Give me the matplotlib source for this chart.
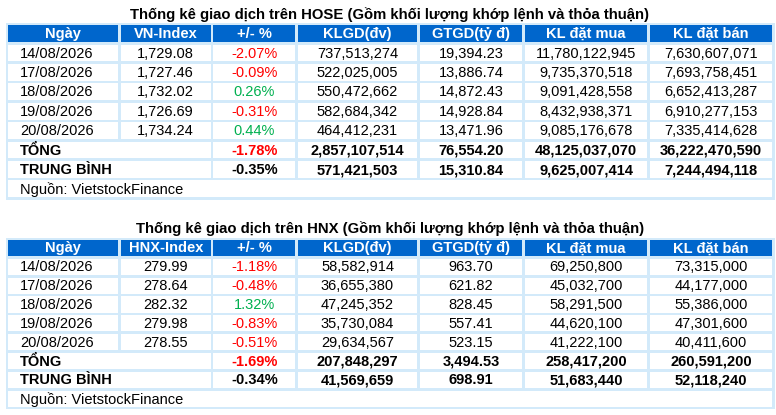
import matplotlib.pyplot as plt
from matplotlib.patches import Rectangle

plt.rcParams['font.family'] = ['Liberation Sans', 'DejaVu Sans']

# ---- data ----
headers_hose = ['Ngày', 'VN-Index', '+/- %', 'KLGD(đv)', 'GTGD(tỷ đ)', 'KL đặt mua', 'KL đặt bán']
headers_hnx = ['Ngày', 'HNX-Index', '+/- %', 'KLGD(đv)', 'GTGD(tỷ đ)', 'KL đặt mua', 'KL đặt bán']
dates = ['14/08/2026', '17/08/2026', '18/08/2026', '19/08/2026', '20/08/2026']

hose_index = [1729.08, 1727.46, 1732.02, 1726.69, 1734.24]
hose_change = [-2.07, -0.09, 0.26, -0.31, 0.44]
hose_klgd = [737513274, 522025005, 550472662, 582684342, 464412231]
hose_gtgd = [19394.23, 13886.74, 14872.43, 14928.84, 13471.96]
hose_mua = [11780122945, 9735370518, 9091428558, 8432938371, 9085176678]
hose_ban = [7630607071, 7693758451, 6652413287, 6910277153, 7335414628]
hose_total = [-1.78, 2857107514, 76554.20, 48125037070, 36222470590]
hose_avg = [-0.35, 571421503, 15310.84, 9625007414, 7244494118]

hnx_index = [279.99, 278.64, 282.32, 279.98, 278.55]
hnx_change = [-1.18, -0.48, 1.32, -0.83, -0.51]
hnx_klgd = [58582914, 36655380, 47245352, 35730084, 29634567]
hnx_gtgd = [963.70, 621.82, 828.45, 557.41, 523.15]
hnx_mua = [69250800, 45032700, 58291500, 44620100, 41222100]
hnx_ban = [73315000, 44177000, 55386000, 47301600, 40411600]
hnx_total = [-1.69, 207848297, 3494.53, 258417200, 260591200]
hnx_avg = [-0.34, 41569659, 698.91, 51683440, 52118240]

title_hose = 'Thống kê giao dịch trên HOSE (Gồm khối lượng khớp lệnh và thỏa thuận)'
title_hnx = 'Thống kê giao dịch trên HNX (Gồm khối lượng khớp lệnh và thỏa thuận)'
source = 'Nguồn: VietstockFinance'

# ---- style ----
HEAD = '#0066CC'
LINE = '#D3EAFA'
RED = '#FF0000'
GREEN = '#00B050'
FS = 10.5
col_edges = [6.5, 119.5, 212, 296.5, 418.5, 523.5, 648.5, 773.5]
gap = 1.3

fig = plt.figure(figsize=(7.76, 4.15), dpi=100, facecolor='white')
ax = fig.add_axes([0, 0, 1, 1])
ax.set_xlim(0, 776)
ax.set_ylim(415, 0)
ax.axis('off')


def cell(x0, x1, y0, y1, color):
    ax.add_patch(Rectangle((x0 + gap, y0 + gap), x1 - x0 - 2 * gap, y1 - y0 - 2 * gap,
                           facecolor=color, edgecolor='none'))


def pct_color(v):
    return RED if v < 0 else GREEN


def draw_table(top, step, title, headers, index, change, klgd, gtgd, mua, ban, total, avg):
    ys = [top + i * step for i in range(10)]
    ax.add_patch(Rectangle((col_edges[0] - 1, ys[0] - 1), col_edges[-1] - col_edges[0] + 2,
                           ys[-1] - ys[0] + 2, facecolor=LINE, edgecolor='none'))
    ax.text(390, top - 9.5, title, ha='center', va='center', fontsize=10.7, fontweight='bold')
    # header
    for j, h in enumerate(headers):
        cell(col_edges[j], col_edges[j + 1], ys[0], ys[1], HEAD)
        ax.text((col_edges[j] + col_edges[j + 1]) / 2, (ys[0] + ys[1]) / 2 + 0.5, h,
                ha='center', va='center', color='white', fontsize=FS, fontweight='bold')
    # day rows
    for i in range(5):
        y0, y1 = ys[i + 1], ys[i + 2]
        yc = (y0 + y1) / 2 + 0.5
        for j in range(7):
            cell(col_edges[j], col_edges[j + 1], y0, y1, 'white')
        vals = [f'{index[i]:,.2f}', f'{change[i]:.2f}%', f'{klgd[i]:,}',
                f'{gtgd[i]:,.2f}', f'{mua[i]:,}', f'{ban[i]:,}']
        ax.text(20, yc, dates[i], ha='left', va='center', fontsize=FS)
        for j, v in enumerate(vals, start=1):
            c = pct_color(change[i]) if j == 2 else 'black'
            ax.text((col_edges[j] + col_edges[j + 1]) / 2, yc, v,
                    ha='center', va='center', fontsize=FS, color=c)
    # total / average rows
    for k, (label, row) in enumerate([('TỔNG', total), ('TRUNG BÌNH', avg)]):
        y0, y1 = ys[6 + k], ys[7 + k]
        yc = (y0 + y1) / 2 + 0.5
        cell(col_edges[0], col_edges[2], y0, y1, 'white')
        for j in range(2, 7):
            cell(col_edges[j], col_edges[j + 1], y0, y1, 'white')
        ax.text(20, yc, label, ha='left', va='center', fontsize=FS, fontweight='bold')
        vals = [f'{row[0]:.2f}%', f'{row[1]:,}', f'{row[2]:,.2f}', f'{row[3]:,}', f'{row[4]:,}']
        for j, v in enumerate(vals, start=2):
            c = RED if (j == 2 and k == 0) else 'black'
            ax.text((col_edges[j] + col_edges[j + 1]) / 2, yc, v,
                    ha='center', va='center', fontsize=FS, fontweight='bold', color=c)
    # source row
    cell(col_edges[0], col_edges[-1], ys[8], ys[9], 'white')
    ax.text(20, (ys[8] + ys[9]) / 2 + 0.5, source, ha='left', va='center', fontsize=FS)


draw_table(24, 19.4, title_hose, headers_hose, hose_index, hose_change, hose_klgd,
           hose_gtgd, hose_mua, hose_ban, hose_total, hose_avg)
draw_table(238.5, 18.85, title_hnx, headers_hnx, hnx_index, hnx_change, hnx_klgd,
           hnx_gtgd, hnx_mua, hnx_ban, hnx_total, hnx_avg)

fig.savefig('out.png', dpi=100, facecolor='white')
